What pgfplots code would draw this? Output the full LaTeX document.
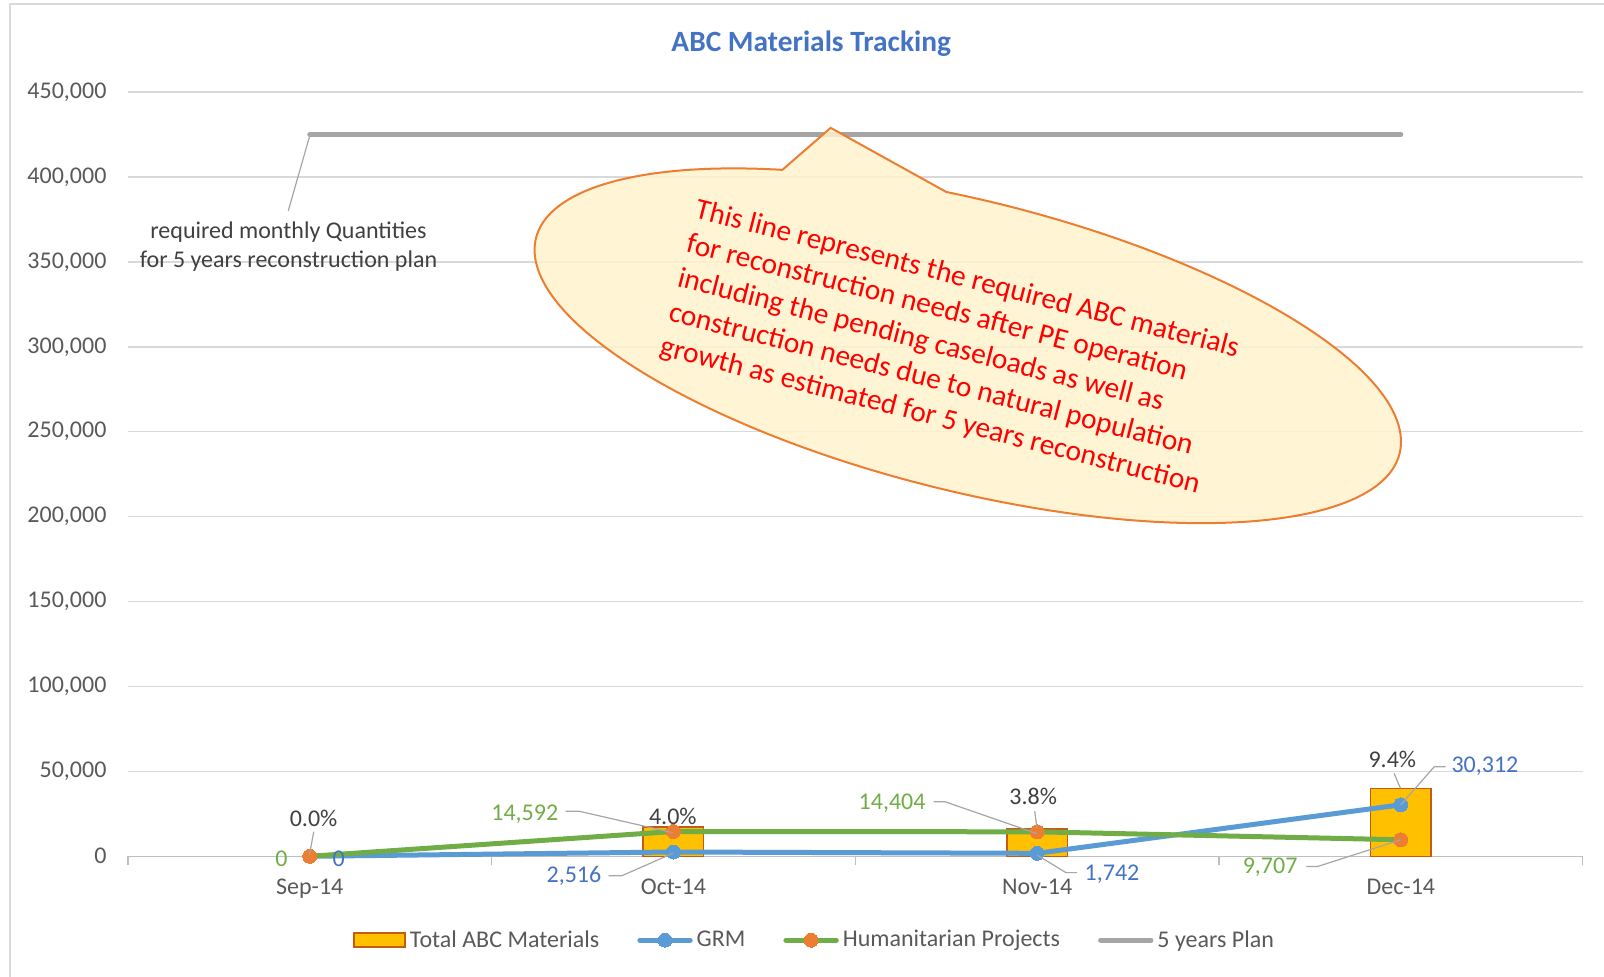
\documentclass[border=0pt]{standalone}
\usepackage{pgfplots}
\pgfplotsset{compat=1.18}
\usepackage{fontspec}
\setmainfont{Carlito}
\definecolor{titleblue}{HTML}{4472C4}
\definecolor{grmblue}{HTML}{5B9BD5}
\definecolor{hpgreen}{HTML}{70AD47}
\definecolor{hporange}{HTML}{ED7D31}
\definecolor{plangray}{HTML}{A5A5A5}
\definecolor{barfill}{HTML}{FFC000}
\definecolor{barline}{HTML}{C55A11}
\definecolor{gridgray}{HTML}{D9D9D9}
\definecolor{axisgray}{HTML}{BFBFBF}
\definecolor{tickgray}{HTML}{595959}
\definecolor{labelgray}{HTML}{404040}
\definecolor{leadergray}{HTML}{A6A6A6}
\definecolor{callfill}{HTML}{FFF2CC}
\definecolor{callred}{HTML}{FF0000}
\pgfplotsset{
  myline legend/.style={legend image code/.code={\draw[mark repeat=2,mark phase=2,##1] plot coordinates {(1.2pt,0pt) (13.8pt,0pt) (26.4pt,0pt)};}},
  myplain legend/.style={legend image code/.code={\draw[##1] (1.2pt,0pt) -- (26.4pt,0pt);}},
  mybar legend/.style={legend image code/.code={\draw[fill=barfill, draw=barline, line width=0.9pt] (0pt,-3.4pt) rectangle (25.6pt,3.4pt);}},
}
\begin{document}
\begin{tikzpicture}
\useasboundingbox (0,0) rectangle (802pt,488.5pt);
\begin{axis}[
  at={(63.94pt,60.36pt)}, anchor=south west,
  scale only axis, width=727.4pt, height=382.1pt,
  clip=false,
  xmin=-0.5, xmax=3.5, ymin=0, ymax=450000,
  xtick={0,1,2,3}, xticklabels={Sep-14,Oct-14,Nov-14,Dec-14},
  minor xtick={-0.5,0.5,1.5,2.5,3.5},
  ytick={0,50000,100000,150000,200000,250000,300000,350000,400000,450000},
  yticklabels={0,{50,000},{100,000},{150,000},{200,000},{250,000},{300,000},{350,000},{400,000},{450,000}},
  scaled y ticks=false,
  ymajorgrids, grid style={draw=gridgray, line width=0.75pt},
  axis x line*=bottom, axis y line*=left,
  x axis line style={draw=axisgray, line width=0.75pt, -},
  y axis line style={draw=none},
  major tick length=0pt, minor tick length=4.5pt, tick align=outside,
  minor tick style={draw=axisgray, line width=0.75pt},
  ticklabel style={font=\fontsize{12}{14}\selectfont, text=tickgray},
  yticklabel style={xshift=-7.2pt},
  xticklabel style={yshift=-7.8pt},
  legend style={at={(0.4726,-0.1098)}, anchor=center, draw=none, fill=none,
     font=\fontsize{12}{14}\selectfont, text=tickgray,
     /tikz/every even column/.append style={column sep=17pt}},
  legend columns=4, legend cell align=left,
]
\addplot[ybar, bar width=30.2pt, bar shift=0pt, fill=barfill, draw=barline, line width=0.75pt, mybar legend]
  coordinates {(1,17108) (2,16146) (3,40019)};
\addlegendentry{Total ABC Materials}
\addplot[grmblue, line width=2.5pt, line join=round, line cap=round, mark=*, mark size=3.5pt,
  mark options={fill=grmblue, draw=grmblue, line width=0pt}, myline legend]
  coordinates {(0,0) (1,2516) (2,1742) (3,30312)};
\addlegendentry{GRM}
\addplot[hpgreen, line width=2.5pt, line join=round, line cap=round, mark=*, mark size=3.5pt,
  mark options={fill=hporange, draw=hporange, line width=0pt}, myline legend]
  coordinates {(0,0) (1,14592) (2,14404) (3,9707)};
\addlegendentry{Humanitarian Projects}
\addplot[plangray, line width=2.5pt, line cap=round, myplain legend]
  coordinates {(0,425000) (1,425000) (2,425000) (3,425000)};
\addlegendentry{5 years Plan}
\end{axis}
\begin{scope}[x=0.5115pt, y=-0.5115pt, shift={(0pt,488.5pt)}]
  % chart border
  \draw[gridgray, line width=0.75pt] (10,962) -- (10,4) -- (1572,4);
  % title
  \node[font=\fontsize{14.7}{17}\selectfont\bfseries, text=titleblue] at (793,43) {ABC Materials Tracking};
  % plan label
  \node[align=center, font=\fontsize{12}{14.3}\selectfont, text=labelgray] at (282,241)
    {required monthly Quantities\\for 5 years reconstruction plan};
  \draw[leadergray, line width=0.6pt] (281.8,206) -- (302.7,133);
  % leader lines
  \begin{scope}[leadergray, line width=0.6pt]
    \draw (306.7,813) -- (302.4,836);
    \draw (553,793) -- (566,793) -- (658,814);
    \draw (595,856) -- (608,856) -- (658,834);
    \draw (912.7,783.7) -- (923.7,783.7) -- (1014,815);
    \draw (1011.4,793) -- (1013.7,809.4);
    \draw (1053,853) -- (1042,853) -- (1014,836);
    \draw (1277,847) -- (1288,847) -- (1369,821);
    \draw (1362.7,756) -- (1369,770.6);
    \draw (1413,749.5) -- (1402,749.5) -- (1369,787);
  \end{scope}
  % data labels
  \begin{scope}[every node/.style={font=\fontsize{12}{14}\selectfont, inner sep=0pt}]
    \node[text=titleblue] at (331,839) {0};
    \node[text=hpgreen] at (275,839) {0};
    \node[text=titleblue] at (561,856) {2,516};
    \node[text=hpgreen] at (513,795.6) {14,592};
    \node[text=labelgray] at (306.5,800) {0.0\%};
    \node[text=labelgray] at (657.7,798) {4.0\%};
    \node[text=hpgreen] at (872,785) {14,404};
    \node[text=labelgray] at (1010,778.6) {3.8\%};
    \node[text=titleblue] at (1087,855) {1,742};
    \node[text=hpgreen] at (1241.5,848) {9,707};
    \node[text=labelgray] at (1361,742) {9.4\%};
    \node[text=titleblue] at (1451.5,749) {30,312};
  \end{scope}
  % callout
  \coordinate (tip) at (812,125);
  \begin{scope}[shift={(946,338)}, rotate=-14]
    \filldraw[fill=callfill, fill opacity=0.85, draw=hporange, line width=1pt, line join=miter]
      (262.5:435 and 142) arc[start angle=262.5, end angle=600, x radius=435, y radius=142] -- (tip) -- cycle;
  \end{scope}
  \node[rotate=-14.4, anchor=north west, align=left, inner sep=0pt, text=callred,
        font=\fontsize{14.7}{17.7}\selectfont] at (683,193)
    {This line represents the required ABC materials\\for reconstruction needs after PE operation\\including the pending caseloads as well as\\construction needs due to natural population\\growth as estimated for 5 years reconstruction};
\end{scope}
\end{tikzpicture}
\end{document}
